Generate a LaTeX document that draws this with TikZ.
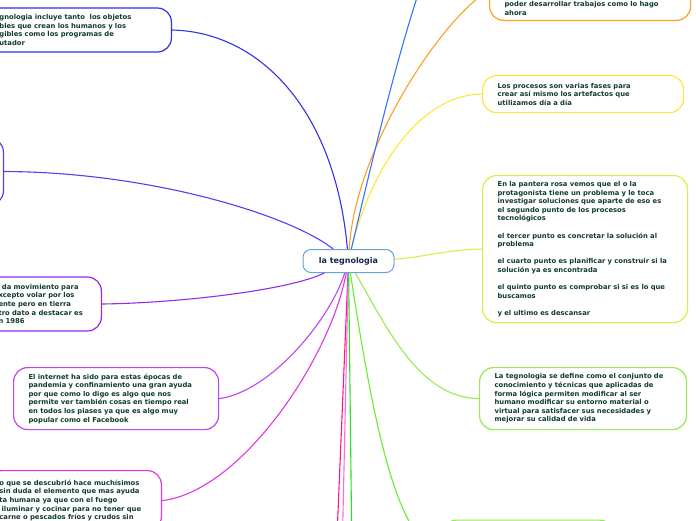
\documentclass[tikz,border=0pt]{standalone}
\usepackage{fontspec}
\setmainfont{DejaVu Sans}
\usepackage{xcolor}
\usetikzlibrary{positioning}
\definecolor{inkgreen}{RGB}{16, 60, 45}
\definecolor{rootnavy}{RGB}{22, 40, 75}
\definecolor{rootblue}{RGB}{100, 165, 220}
\definecolor{cblue}{RGB}{50, 50, 230}
\definecolor{cindigo}{RGB}{90, 60, 240}
\definecolor{cpurple}{RGB}{145, 45, 235}
\definecolor{cviolet}{RGB}{190, 70, 240}
\definecolor{cmagenta}{RGB}{225, 55, 225}
\definecolor{cdeeppink}{RGB}{255, 20, 150}
\definecolor{clightpink}{RGB}{255, 110, 205}
\definecolor{cgreen}{RGB}{40, 225, 40}
\definecolor{clime}{RGB}{110, 235, 45}
\definecolor{cpale}{RGB}{150, 235, 80}
\definecolor{cyelgreen}{RGB}{220, 238, 70}
\definecolor{cyellow}{RGB}{255, 230, 60}
\definecolor{corange}{RGB}{255, 160, 35}
\definecolor{cskyblue}{RGB}{55, 115, 255}

\begin{document}
\begin{tikzpicture}[x=1pt, y=-1pt,
    idea/.style={draw, line width=1.2pt, rounded corners=14pt, fill=white,
                 text=inkgreen, align=left, inner xsep=15pt, inner ysep=4pt,
                 font=\fontsize{6.8}{8.6}\selectfont\bfseries},
    root/.style={draw=rootblue, line width=1pt, rounded corners=8pt, fill=white,
                 minimum width=91pt, minimum height=23pt, text=rootnavy,
                 font=\fontsize{8}{9}\selectfont\bfseries},
    link/.style={line width=1.1pt}
]
    \useasboundingbox (0,0) rectangle (696,520);
    \clip (0,0) rectangle (696,520);
    \fill[white] (0,0) rectangle (696,520);

    \node[root] (tegno) at (348.5,261) {la tegnologia};

    % left side
    \node[idea, draw=cblue, text width=157pt, minimum height=44pt, anchor=east]
        (incluye) at (172,30)
        {gnologia incluye tanto\ \ los objetos\\bles que crean los humanos y los\\gibles como los programas de\\utador};
    \node[idea, draw=cindigo, minimum width=104pt, minimum height=67pt, anchor=east]
        (oculto) at (4,171.5) {};
    \node[idea, draw=cpurple, text width=92pt, inner xsep=12pt, minimum height=54pt, anchor=east]
        (movimiento) at (102,304)
        {\ \ da movimiento para\\\,xcepto volar por los\\\,ente pero en tierra\\\,tro dato a destacar es\\\,n 1986};
    \node[idea, draw=cviolet, text width=175pt, minimum height=62pt, anchor=north west]
        (internet) at (13,367)
        {El internet ha sido para estas épocas de\\pandemia y confinamiento una gran ayuda\\por que como lo digo es algo que nos\\permite ver también cosas en tiempo real\\en todos los piases ya que es algo muy\\popular como el Facebook};
    \node[idea, draw=cmagenta, text width=150pt, inner xsep=12pt, minimum height=60pt, anchor=north east]
        (fuego) at (162,470)
        {o que se descubrió hace muchísimos\\sin duda el elemento que mas ayuda\\ta humana ya que con el fuego\\\ iluminar y cocinar para no tener que\\carne o pescados fríos y crudos sin};

    % right side
    \node[idea, draw=corange, text width=171pt, text height=42pt, inner ysep=5pt, anchor=south west]
        (trabajos) at (489,21)
        {poder desarrollar trabajos como lo hago\\ahora};
    \node[idea, draw=cyellow, text width=171pt, minimum height=37pt, anchor=north west]
        (procesos) at (482,75)
        {Los procesos son varias fases para\\crear así mismo los artefactos que\\utilizamos día a día};
    \node[idea, draw=cyelgreen, text width=175pt, minimum height=147pt, anchor=north west]
        (pantera) at (482,175)
        {En la pantera rosa vemos que el o la\\protagonista tiene un problema y le toca\\investigar soluciones que aparte de eso es\\el segundo punto de los procesos\\tecnológicos\\[8.6pt]el tercer punto es concretar la solución al\\problema\\[8.6pt]el cuarto punto es planificar y construir si la\\solución ya es encontrada\\[8.6pt]el quinto punto es comprobar si si es lo que\\buscamos\\[8.6pt]y el ultimo es descansar};
    \node[idea, draw=cpale, text width=177pt, minimum height=62pt, anchor=north west]
        (define) at (479,367)
        {La tegnologia se define como el conjunto de\\conocimiento y técnicas que aplicadas de\\forma lógica permiten modificar al ser\\humano modificar su entorno material o\\virtual para satisfacer sus necesidades y\\mejorar su calidad de vida};
    \node[idea, draw=cpale, minimum width=171pt, minimum height=60pt, anchor=north west]
        (abajo) at (442,519.5) {};

    \coordinate (arriba) at (430,-40);
    \coordinate (rosa1) at (336,560);
    \coordinate (rosa2) at (342,560);
    \coordinate (verde) at (352,560);

    \draw[link, cblue] (tegno) .. controls (335,110) and (260,32) .. (incluye.east);
    \draw[link, cindigo] (tegno) .. controls (290,215) and (150,172) .. (oculto.east);
    \draw[link, cpurple] (tegno) .. controls (290,290) and (180,303) .. (movimiento.east);
    \draw[link, cviolet] (tegno) .. controls (330,320) and (270,392) .. (internet.east);
    \draw[link, cmagenta] (tegno) .. controls (330,360) and (240,492) .. (fuego.east);
    \draw[link, cdeeppink] (tegno) -- (rosa1);
    \draw[link, clightpink] (tegno) -- (rosa2);
    \draw[link, cgreen] (tegno) -- (verde);
    \draw[link, clime] (tegno) .. controls (370,400) and (395,549) .. (abajo.west);
    \draw[link, cpale] (tegno) .. controls (388,330) and (420,398) .. (define.west);
    \draw[link, cyelgreen] (tegno) .. controls (420,258) and (450,249) .. (pantera.west);
    \draw[link, cyellow] (tegno) .. controls (370,170) and (420,94) .. (procesos.west);
    \draw[link, corange] (tegno) .. controls (355,150) and (440,20) .. (trabajos.west);
    \draw[link, cskyblue] (tegno) .. controls (370,170) and (400,40) .. (arriba);
\end{tikzpicture}
\end{document}
